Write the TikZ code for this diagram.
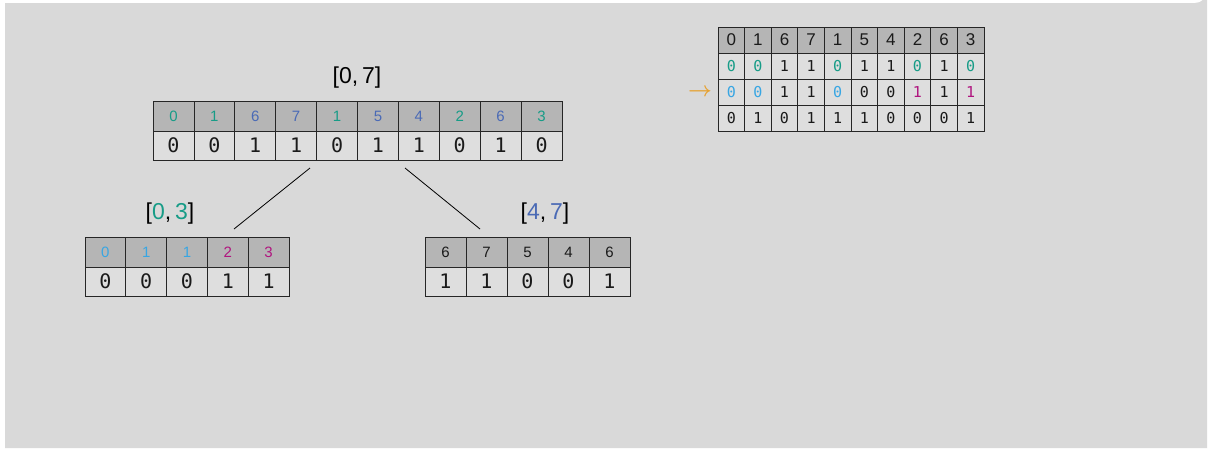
\documentclass[tikz,border=0pt]{standalone}
\usepackage{fontspec}
\setmainfont{Liberation Sans}
\setmonofont{DejaVu Sans Mono}
\definecolor{bgc}{HTML}{D9D9D9}
\definecolor{hdc}{HTML}{B5B5B5}
\definecolor{vlc}{HTML}{DEDEDE}
\definecolor{tl}{HTML}{179C87}
\definecolor{bl}{HTML}{4A6AB5}
\definecolor{lb}{HTML}{38A6E3}
\definecolor{mg}{HTML}{B0157F}
\definecolor{bk}{HTML}{1A1A1A}
\definecolor{org}{HTML}{E6A232}
\begin{document}
\begin{tikzpicture}[x=1pt,y=-1pt,
  cellbox/.style={draw=black!85, line width=0.8pt, inner sep=0pt, outer sep=0pt, anchor=center},
  hdcell/.style={cellbox, fill=hdc, minimum width=40.9pt, minimum height=30pt, font=\fontsize{15}{15}\selectfont},
  vlcell/.style={cellbox, fill=vlc, minimum width=40.9pt, minimum height=29pt, font=\fontsize{20}{20}\selectfont\ttfamily},
  mhcell/.style={cellbox, fill=hdc, minimum width=26.6pt, minimum height=26pt, font=\fontsize{17}{17}\selectfont},
  mvcell/.style={cellbox, fill=vlc, minimum width=26.6pt, minimum height=26pt, font=\fontsize{15}{15}\selectfont\ttfamily},
  rangelbl/.style={inner sep=0pt, font=\fontsize{23}{23}\selectfont},
  link/.style={draw=black, line width=0.8pt}]
\useasboundingbox (0,0) rectangle (1209,448);
\fill[white] (0,0) rectangle (1209,448);
\fill[bgc] (5,3) -- (1195,3) arc[start angle=90, end angle=0, radius=12] -- (1207,448) -- (5,448) -- cycle;

% main table
\foreach \v/\c [count=\i] in {0/tl,1/tl,6/bl,7/bl,1/tl,5/bl,4/bl,2/tl,6/bl,3/tl}
  \node[hdcell, text=\c] (mh\i) at ({153+40.9*(\i-0.5)},116) {\v};
\foreach \v [count=\i] in {0,0,1,1,0,1,1,0,1,0}
  \node[vlcell, text=bk] (mv\i) at ({153+40.9*(\i-0.5)},145.5) {\v};
\node[rangelbl] (r07) at (357,78) {[0,\,7]};

% left table
\foreach \v/\c [count=\i] in {0/lb,1/lb,1/lb,2/mg,3/mg}
  \node[hdcell, text=\c, minimum width=40.8pt] (lh\i) at ({85+40.8*(\i-0.5)},252) {\v};
\foreach \v [count=\i] in {0,0,0,1,1}
  \node[vlcell, text=bk, minimum width=40.8pt] (lv\i) at ({85+40.8*(\i-0.5)},281.5) {\v};
\node[rangelbl] (r03) at (170,214) {[\textcolor{tl}{0},\,\textcolor{tl}{3}]};

% right table
\foreach \v [count=\i] in {6,7,5,4,6}
  \node[hdcell, text=bk, minimum width=41pt] (rh\i) at ({425+41*(\i-0.5)},252) {\v};
\foreach \v [count=\i] in {1,1,0,0,1}
  \node[vlcell, text=bk, minimum width=41pt] (rv\i) at ({425+41*(\i-0.5)},281.5) {\v};
\node[rangelbl] (r47) at (545,214) {[\textcolor{bl}{4},\,\textcolor{bl}{7}]};

% links
\coordinate (la) at (310,168);
\coordinate (lb) at (234,229);
\coordinate (ra) at (405,168);
\coordinate (rb) at (480,229);
\draw[link] (la) -- (lb);
\draw[link] (ra) -- (rb);

% matrix
\foreach \v [count=\i] in {0,1,6,7,1,5,4,2,6,3}
  \node[mhcell, text=bk] (xa\i) at ({718+26.6*(\i-0.5)},40) {\v};
\foreach \v/\c [count=\i] in {0/tl,0/tl,1/bk,1/bk,0/tl,1/bk,1/bk,0/tl,1/bk,0/tl}
  \node[mvcell, text=\c] (xb\i) at ({718+26.6*(\i-0.5)},66) {\v};
\foreach \v/\c [count=\i] in {0/lb,0/lb,1/bk,1/bk,0/lb,0/bk,0/bk,1/mg,1/bk,1/mg}
  \node[mvcell, text=\c] (xc\i) at ({718+26.6*(\i-0.5)},92) {\v};
\foreach \v [count=\i] in {0,1,0,1,1,1,0,0,0,1}
  \node[mvcell, text=bk] (xd\i) at ({718+26.6*(\i-0.5)},118) {\v};
\node[inner sep=0pt, text=org, font=\huge\boldmath] (arr) at (700,92) {$\rightarrow$};
\end{tikzpicture}
\end{document}
